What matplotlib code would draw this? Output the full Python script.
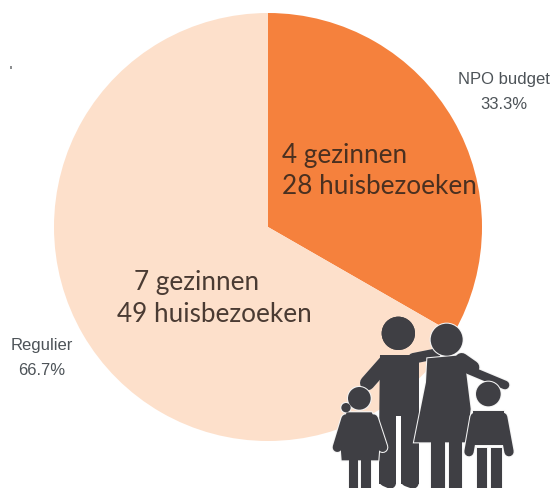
import matplotlib
matplotlib.use("Agg")
import matplotlib.pyplot as plt
from matplotlib.patches import Circle, Polygon

labels = ["NPO budget", "Regulier"]
shares = [33.3, 66.7]
colors = ["#F5813D", "#FDE0CB"]
pct_labels = ["33.3%", "66.7%"]
inner_labels = ["4 gezinnen\n28 huisbezoeken", "7 gezinnen\n49 huisbezoeken"]

W, H = 550, 489
fig = plt.figure(figsize=(W / 100, H / 100), dpi=100)
ax = fig.add_axes([0, 0, 1, 1])
Y = lambda py: H - py

ax.pie(shares, colors=colors, startangle=90, counterclock=False,
       center=(268, Y(228)), radius=214, frame=False,
       wedgeprops=dict(linewidth=0))
ax.set_xlim(0, W)
ax.set_ylim(0, H)
ax.set_aspect("equal")
ax.axis("off")

inner_font = ["Lato", "DejaVu Sans"]
ink = "#4A3B33"
fs = 18.8
ax.text(282, Y(156), inner_labels[0].split("\n")[0], ha="left", va="center",
        fontsize=fs, color="#4A3020", family=inner_font)
ax.text(282, Y(187), inner_labels[0].split("\n")[1], ha="left", va="center",
        fontsize=fs, color="#4A3020", family=inner_font)
ax.text(197, Y(283), inner_labels[1].split("\n")[0], ha="center", va="center",
        fontsize=fs, color=ink, family=inner_font)
ax.text(214, Y(315), inner_labels[1].split("\n")[1], ha="center", va="center",
        fontsize=fs, color=ink, family=inner_font)

lab = "#4D5358"
lfs = 12
ax.text(504, Y(80), labels[0], ha="center", va="center", fontsize=lfs, color=lab, family="Liberation Sans")
ax.text(504, Y(105), pct_labels[0], ha="center", va="center", fontsize=lfs, color=lab, family="Liberation Sans")
ax.text(42, Y(346), labels[1], ha="center", va="center", fontsize=lfs, color=lab, family="Liberation Sans")
ax.text(42, Y(371), pct_labels[1], ha="center", va="center", fontsize=lfs, color=lab, family="Liberation Sans")

ax.plot([10.5, 10.5], [Y(67), Y(70)], color="#77797C", lw=1.2, solid_capstyle="butt")

# family pictogram, drawn in zoom-crop coordinates (3x, origin 320,300)
dark = "#3F3F44"
halo = "#F4F4F4"
def P(zx, zy):
    return 320 + zx / 3, Y(300 + zy / 3)
def person(z, discs=(), polys=(), limbs=(), outline=2.0):
    """Each person: a light outline pass below one dark pass, so no seams show inside."""
    for (zx, zy, zr) in discs:
        ax.add_patch(Circle(P(zx, zy), zr / 3, fc=dark, ec=halo, lw=outline, zorder=z))
    for pts in polys:
        ax.add_patch(Polygon([P(*p) for p in pts], closed=True, fc=dark, ec=halo, lw=outline, zorder=z))
    for pts, zw in limbs:
        xs, ys = zip(*[P(*p) for p in pts])
        ax.plot(xs, ys, color=halo, lw=zw / 3 * 0.72 + outline, solid_capstyle="round",
                solid_joinstyle="round", zorder=z)
    for (zx, zy, zr) in discs:
        ax.add_patch(Circle(P(zx, zy), zr / 3, fc=dark, ec="none", zorder=z + 0.5))
    for pts in polys:
        ax.add_patch(Polygon([P(*p) for p in pts], closed=True, fc=dark, ec="none", zorder=z + 0.5))
    for pts, zw in limbs:
        xs, ys = zip(*[P(*p) for p in pts])
        ax.plot(xs, ys, color=dark, lw=zw / 3 * 0.72, solid_capstyle="round",
                solid_joinstyle="round", zorder=z + 0.5)

# father
person(5,
       discs=[(235, 103, 50)],
       polys=[[(180, 168), (296, 168), (296, 555), (243, 555), (243, 350),
               (228, 350), (228, 555), (178, 555)]],
       limbs=[([(195, 192), (142, 252)], 44),
              ([(195, 545), (211, 552)], 34), ([(260, 545), (279, 552)], 34),
              ([(280, 178), (345, 165)], 32)],
       outline=0.0)

# mother
person(7,
       discs=[(380, 122, 48)],
       polys=[[(322, 178), (432, 168), (452, 330), (440, 430), (282, 430), (318, 250)],
              [(333, 430), (376, 430), (376, 570), (333, 570)],
              [(386, 430), (427, 430), (427, 570), (386, 570)]],
       limbs=[([(425, 182), (458, 205)], 40), ([(445, 212), (555, 258)], 26)],
       outline=1.5)

# girl
person(9,
       discs=[(78, 326, 14), (118, 298, 34)],
       polys=[[(80, 340), (155, 340), (182, 395), (175, 484), (65, 484), (58, 395)],
              [(86, 484), (115, 484), (115, 570), (86, 570)],
              [(122, 484), (152, 484), (152, 570), (122, 570)]],
       limbs=[([(78, 360), (52, 445)], 28), ([(160, 360), (188, 445)], 28)],
       outline=1.5)

# boy
person(9,
       discs=[(505, 285, 37)],
       polys=[[(460, 336), (552, 336), (552, 438), (462, 438)],
              [(470, 447), (502, 447), (502, 570), (470, 570)],
              [(513, 447), (546, 447), (546, 570), (513, 570)]],
       limbs=[([(465, 355), (447, 458)], 28), ([(548, 355), (567, 458)], 28)],
       outline=1.5)

fig.savefig("out.png", dpi=100)
